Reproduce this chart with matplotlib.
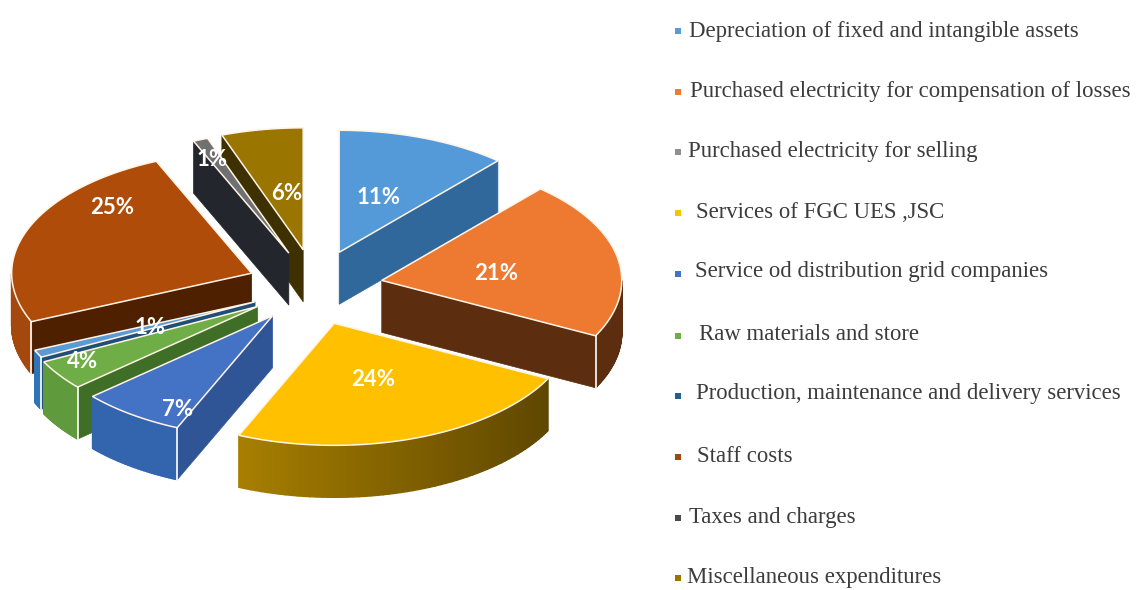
import numpy as np
import matplotlib
matplotlib.use("Agg")
import matplotlib.pyplot as plt
from matplotlib.patches import Polygon
from matplotlib.colors import to_rgb

categories = ['Depreciation of fixed and intangible assets',
              'Purchased electricity for compensation of losses',
              'Purchased electricity for selling',
              'Services of FGC UES ,JSC',
              'Service od distribution grid companies',
              'Raw materials and store',
              'Production, maintenance and delivery services',
              'Staff costs',
              'Taxes and charges',
              'Miscellaneous expenditures']
values = [11, 21, 0, 24, 7, 4, 1, 25, 1, 6]

# colours: legend square, top face, radial wall, outer rim (left end, right end)
legend_cols = ['#5b9bd5', '#ed7d31', '#8f8f8f', '#ffc000', '#4472c4',
               '#70ad47', '#255e91', '#9e480e', '#4a4a4a', '#997300']
top_cols = ['#559ad8', '#ed7a30', '#a5a5a5', '#ffc000', '#4472c4',
            '#6fad47', '#5b9bd5', '#b04c0a', '#6f7072', '#9a7500']
wall_cols = ['#31689c', '#5c2d0e', '#636363', '#5f4700', '#2f5597',
             '#3f6f26', '#1f4e79', '#4e2000', '#24262e', '#3f3000']
rim_cols = [('#31689c', '#31689c'), ('#5c2d0e', '#5c2d0e'), ('#636363', '#636363'),
            ('#a87f00', '#5f4700'), ('#3364ae', '#3364ae'), ('#5f9a3d', '#5f9a3d'),
            ('#2e75b6', '#2e75b6'), ('#a5480e', '#a5480e'), ('#24262e', '#24262e'),
            ('#3f3000', '#3f3000')]

# layout in image pixels
CX, CY = 316, 285
RX, RY = 240, 122
EXPLODE = 0.285
DEPTH = 52
TURN = 1.8  # the picture's slice borders sit a bit clockwise of the true angle
nudge = [(0, 0), (-1, 3), (0, 0), (-7, 6), (-5, 2), (-3, 1), (0, 1), (0, 0), (0, 0), (0, -1)]
label_xy = [(379, 197), (496, 273), None, (373, 379), (178, 410),
            (83, 362), (150, 328), (112, 208), (212, 160), (287, 193)]
legend_x = [689, 690, 688, 696, 695, 699, 696, 697, 689, 687]
legend_y = [31, 92, 152, 213, 272, 334, 394, 456, 518, 578]
marker_y = [31, 92, 152, 213, 274, 336, 396, 457, 518, 578]


def turn(a):
    return a + TURN if 0 < a < 360 else a


def rim(a1, a2, ax0, ay0, n=60):
    t = np.radians(np.linspace(a1, a2, n))
    return ax0 + RX * np.sin(t), ay0 - RY * np.cos(t)


fig = plt.figure(figsize=(11.37, 5.9), dpi=100)
ax = fig.add_axes([0, 0, 1, 1])
ax.set_xlim(0, 1137)
ax.set_ylim(590, 0)
ax.axis('off')

ends = np.cumsum(values) * 3.6
starts = ends - np.array(values) * 3.6
mids = (starts + ends) / 2
order = np.argsort(-np.cos(np.radians(mids)))

for i in order:
    if values[i] == 0:
        continue
    a1, a2 = turn(starts[i]), turn(ends[i])
    m = np.radians(mids[i])
    x0 = CX + EXPLODE * RX * np.sin(m) + nudge[i][0]
    y0 = CY - EXPLODE * RY * np.cos(m) + nudge[i][1]
    xs, ys = rim(a1, a2, x0, y0)

    # radial walls, only those facing the viewer
    for a, seen in ((a1, 180 < a1 < 360), (a2, 0 < a2 < 180)):
        if seen:
            ex = x0 + RX * np.sin(np.radians(a))
            ey = y0 - RY * np.cos(np.radians(a))
            ax.add_patch(Polygon([(x0, y0), (ex, ey), (ex, ey + DEPTH), (x0, y0 + DEPTH)],
                                 closed=True, fc=wall_cols[i], ec=wall_cols[i], lw=0.5))

    # outer rim on the front half
    lo, hi = max(a1, 90), min(a2, 270)
    if hi > lo:
        rx, ry = rim(lo, hi, x0, y0)
        left, right = np.array(to_rgb(rim_cols[i][0])), np.array(to_rgb(rim_cols[i][1]))
        span = rx.max() - rx.min()
        for k in range(len(rx) - 1):
            f = (rx[k] - rx.min()) / span
            c = left + (right - left) * f
            ax.add_patch(Polygon([(rx[k], ry[k]), (rx[k + 1], ry[k + 1]),
                                  (rx[k + 1], ry[k + 1] + DEPTH), (rx[k], ry[k] + DEPTH)],
                                 closed=True, fc=c, ec=c, lw=1))
        # white corner where rim meets a wall
        if lo == a1 and a1 > 180:
            ax.plot([rx[0], rx[0]], [ry[0], ry[0] + DEPTH], color='white', lw=1.2)
        if hi == a2 and a2 < 180:
            ax.plot([rx[-1], rx[-1]], [ry[-1], ry[-1] + DEPTH], color='white', lw=1.2)

    # top face
    pts = [(x0, y0)] + list(zip(xs, ys))
    ax.add_patch(Polygon(pts, closed=True, fc=top_cols[i], ec='#fff4e6', lw=1.1))

for i, v in enumerate(values):
    if label_xy[i] is not None:
        ax.text(label_xy[i][0], label_xy[i][1], f'{v}%', color='white', fontsize=16,
                fontweight='bold', family='Lato', ha='center', va='center')

for i, name in enumerate(categories):
    ax.plot(677.5, marker_y[i], marker='s', ms=4.2, color=legend_cols[i], mew=0)
    ax.text(legend_x[i], legend_y[i], name, fontsize=16.4, family='Liberation Serif',
            color='#3c3c3c', ha='left', va='center')

fig.savefig('out.png', dpi=100)
